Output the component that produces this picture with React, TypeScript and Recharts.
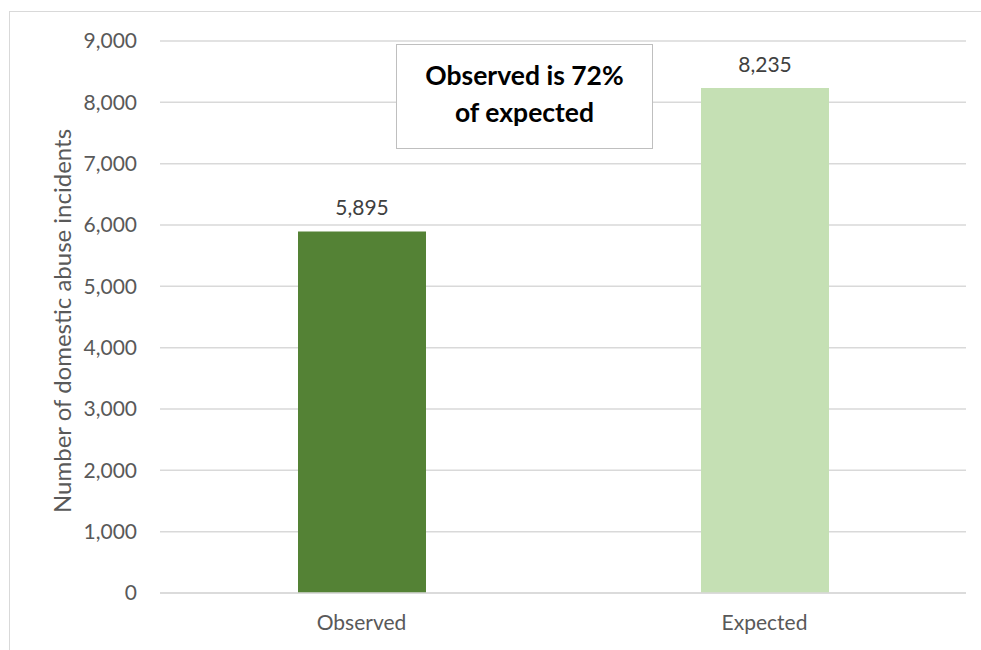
import { BarChart, Bar, XAxis, YAxis, CartesianGrid, Cell, LabelList } from "recharts"

const categories = ["Observed", "Expected"]
const incidents = [5895, 8235]
const barColors = ["#548235", "#C5E0B4"]
const yTicks = [0, 1000, 2000, 3000, 4000, 5000, 6000, 7000, 8000, 9000]
const yAxisTitle = "Number of domestic abuse incidents"
const noteLines = ["Observed is 72%", "of expected"]

const chartData = categories.map((name, i) => ({ name, value: incidents[i] }))

const FONT = "Lato, 'Open Sans', sans-serif"

export default function App() {
  return (
    <div
      style={{
        position: "absolute",
        left: 0,
        top: 0,
        width: 981,
        height: 650,
        overflow: "hidden",
        background: "#fff",
        fontFamily: FONT,
      }}
    >
      {/* chart frame: only top and left edges are inside the picture */}
      <div
        style={{
          position: "absolute",
          left: 9,
          top: 11,
          width: 972,
          height: 639,
          borderTop: "1.5px solid #D9D9D9",
          borderLeft: "1.5px solid #D9D9D9",
          boxSizing: "border-box",
        }}
      />
      <BarChart
        width={981}
        height={650}
        data={chartData}
        margin={{ top: 41, right: 15, left: 0, bottom: 17 }}
        barSize={128}
        style={{ position: "absolute", left: 0, top: 0 }}
      >
        <CartesianGrid horizontal={true} vertical={false} stroke="#D9D9D9" strokeWidth={1.5} />
        <XAxis
          dataKey="name"
          height={40}
          axisLine={{ stroke: "#D9D9D9", strokeWidth: 1.5 }}
          tickLine={false}
          tickSize={0}
          tickMargin={22}
          tick={{ fill: "#595959", fontSize: 21, fontFamily: FONT }}
        />
        <YAxis
          width={160}
          domain={[0, 9000]}
          ticks={yTicks}
          interval={0}
          axisLine={false}
          tickLine={false}
          tickSize={0}
          tickMargin={23}
          tickFormatter={(v: number) => v.toLocaleString("en-US")}
          tick={{ fill: "#595959", fontSize: 21, fontFamily: FONT }}
          label={({ viewBox }: any) => {
            const cx = 61
            const cy = (viewBox?.y ?? 41) + (viewBox?.height ?? 552) / 2 + 4
            return (
              <text
                x={cx}
                y={cy}
                transform={`rotate(-90, ${cx}, ${cy})`}
                textAnchor="middle"
                dominantBaseline="central"
                fill="#595959"
                fontSize={24}
                fontFamily={FONT}
              >
                {yAxisTitle}
              </text>
            )
          }}
        />
        <Bar dataKey="value" isAnimationActive={false}>
          {chartData.map((d, i) => (
            <Cell key={d.name} fill={barColors[i]} />
          ))}
          <LabelList
            dataKey="value"
            position="top"
            offset={16}
            formatter={(v: number) => v.toLocaleString("en-US")}
            style={{ fill: "#404040", fontSize: 21, fontFamily: FONT }}
          />
        </Bar>
      </BarChart>
      <div
        style={{
          position: "absolute",
          left: 396,
          top: 44,
          width: 257,
          height: 105,
          paddingTop: 12,
          border: "1.5px solid #BFBFBF",
          boxSizing: "border-box",
          background: "#fff",
          display: "flex",
          flexDirection: "column",
          justifyContent: "flex-start",
          alignItems: "center",
          fontWeight: 700,
          fontSize: 26.5,
          lineHeight: "37px",
          color: "#000",
        }}
      >
        {noteLines.map((l) => (
          <div key={l}>{l}</div>
        ))}
      </div>
    </div>
  )
}
